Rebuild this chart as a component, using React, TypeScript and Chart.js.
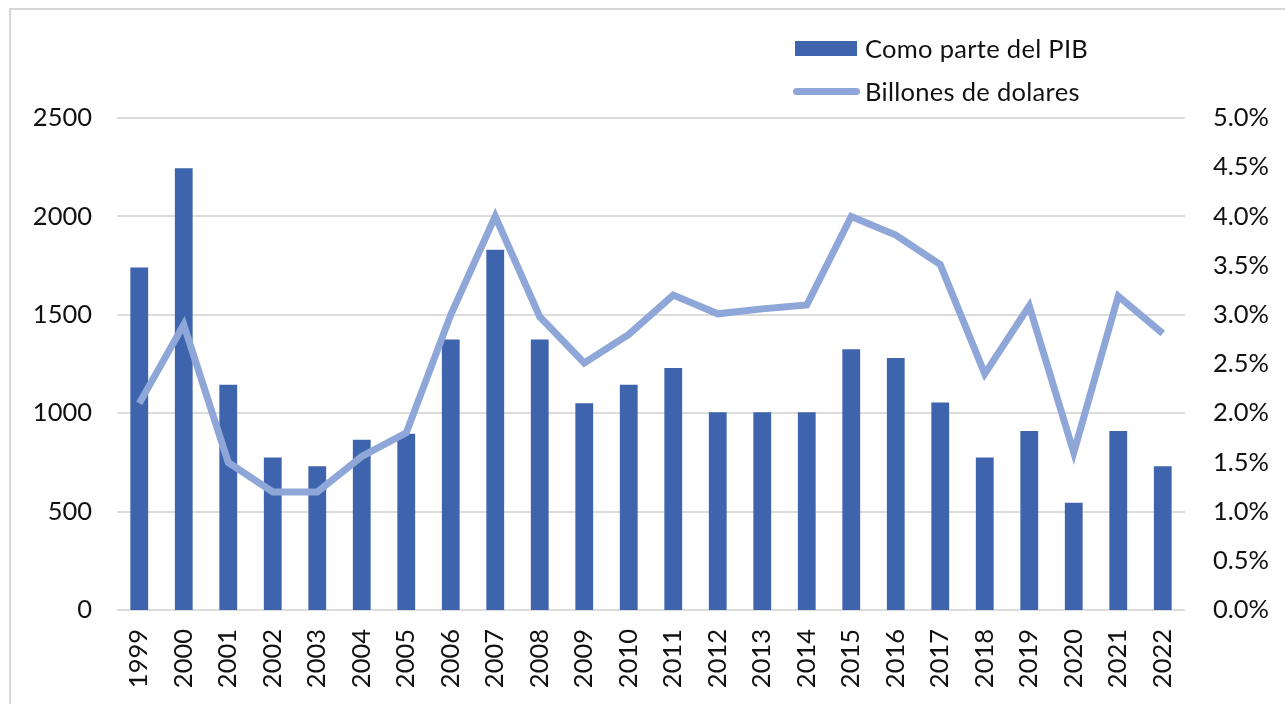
import React, { useEffect, useRef } from 'react';
import { Chart, registerables } from 'chart.js';

Chart.register(...registerables);

const years = [
  '1999', '2000', '2001', '2002', '2003', '2004', '2005', '2006', '2007', '2008', '2009', '2010',
  '2011', '2012', '2013', '2014', '2015', '2016', '2017', '2018', '2019', '2020', '2021', '2022',
];

// Como parte del PIB (%), right axis
const pibPct = [
  3.48, 4.49, 2.29, 1.55, 1.46, 1.73, 1.79, 2.75, 3.66, 2.75, 2.1, 2.29,
  2.46, 2.01, 2.01, 2.01, 2.65, 2.56, 2.11, 1.55, 1.82, 1.09, 1.82, 1.46,
];

// Billones de dolares, left axis
const billones = [
  1050, 1450, 750, 600, 600, 780, 900, 1500, 2000, 1490, 1255, 1400,
  1600, 1505, 1530, 1550, 2000, 1905, 1755, 1200, 1545, 800, 1595, 1405,
];

const leftTicks = { min: 0, max: 2500, step: 500 };
const rightTicks = { min: 0, max: 5, step: 0.5 };

const BAR_COLOR = '#3d64ad';
const LINE_COLOR = '#8fa7d8';
const GRID_COLOR = '#dcdcdc';
const TEXT_COLOR = '#111111';
const FONT_FAMILY = 'Lato, "Open Sans", sans-serif';
const FONT_SIZE = 25.5;

export default function App() {
  const ref = useRef<HTMLCanvasElement>(null);

  useEffect(() => {
    const font = { family: FONT_FAMILY, size: FONT_SIZE };
    const chart = new Chart(ref.current as HTMLCanvasElement, {
      type: 'bar',
      data: {
        labels: years,
        datasets: [
          {
            type: 'line',
            label: 'Billones de dolares',
            data: billones,
            yAxisID: 'yL',
            borderColor: LINE_COLOR,
            backgroundColor: LINE_COLOR,
            borderWidth: 7,
            pointRadius: 0,
            tension: 0,
            order: 0,
          } as any,
          {
            type: 'bar',
            label: 'Como parte del PIB',
            data: pibPct,
            yAxisID: 'yR',
            backgroundColor: BAR_COLOR,
            barPercentage: 0.4,
            categoryPercentage: 1,
            order: 1,
          } as any,
        ],
      },
      options: {
        animation: false,
        responsive: false,
        maintainAspectRatio: false,
        layout: { padding: { top: 118, left: 0, right: 0, bottom: 0 } },
        plugins: { legend: { display: false }, tooltip: { enabled: false } },
        scales: {
          x: {
            grid: { display: false, drawTicks: false },
            border: { display: false },
            ticks: {
              minRotation: 90,
              maxRotation: 90,
              autoSkip: false,
              padding: 19,
              font,
              color: TEXT_COLOR,
            },
            afterFit: (s: any) => {
              s.height = 94;
            },
          },
          yL: {
            position: 'left',
            min: leftTicks.min,
            max: leftTicks.max,
            ticks: {
              stepSize: leftTicks.step,
              padding: 25,
              font,
              color: TEXT_COLOR,
              callback: (v: any) => String(v),
            },
            grid: { color: GRID_COLOR, lineWidth: 2, drawTicks: false },
            border: { display: false },
            afterFit: (s: any) => {
              s.width = 117;
            },
          },
          yR: {
            position: 'right',
            min: rightTicks.min,
            max: rightTicks.max,
            ticks: {
              stepSize: rightTicks.step,
              padding: 28,
              font,
              color: TEXT_COLOR,
              callback: (v: any) => Number(v).toFixed(1) + '%',
            },
            grid: { display: false, drawTicks: false },
            border: { display: false },
            afterFit: (s: any) => {
              s.width = 100;
            },
          },
        },
      } as any,
    });
    return () => chart.destroy();
  }, []);

  const legendText: React.CSSProperties = {
    position: 'absolute',
    left: 865,
    fontFamily: FONT_FAMILY,
    fontSize: FONT_SIZE,
    color: TEXT_COLOR,
    lineHeight: '30px',
    whiteSpace: 'nowrap',
    letterSpacing: '0.3px',
  };

  return (
    <div
      style={{
        position: 'fixed',
        left: 0,
        top: 0,
        width: 1285,
        height: 704,
        overflow: 'hidden',
        background: '#fff',
      }}
    >
      <div
        style={{
          position: 'absolute',
          left: 9,
          top: 8,
          width: 2000,
          height: 2000,
          borderLeft: '2px solid #d6d6d6',
          borderTop: '2px solid #d6d6d6',
        }}
      />
      <canvas
        ref={ref}
        width={1285}
        height={704}
        style={{ position: 'absolute', left: 0, top: 0, width: 1285, height: 704 }}
      />
      <div style={{ position: 'absolute', left: 795, top: 41, width: 62, height: 15, background: BAR_COLOR }} />
      <div style={{ ...legendText, top: 33 }}>Como parte del PIB</div>
      <div
        style={{
          position: 'absolute',
          left: 793,
          top: 88,
          width: 67,
          height: 7,
          borderRadius: 3.5,
          background: LINE_COLOR,
        }}
      />
      <div style={{ ...legendText, top: 76 }}>Billones de dolares</div>
    </div>
  );
}
